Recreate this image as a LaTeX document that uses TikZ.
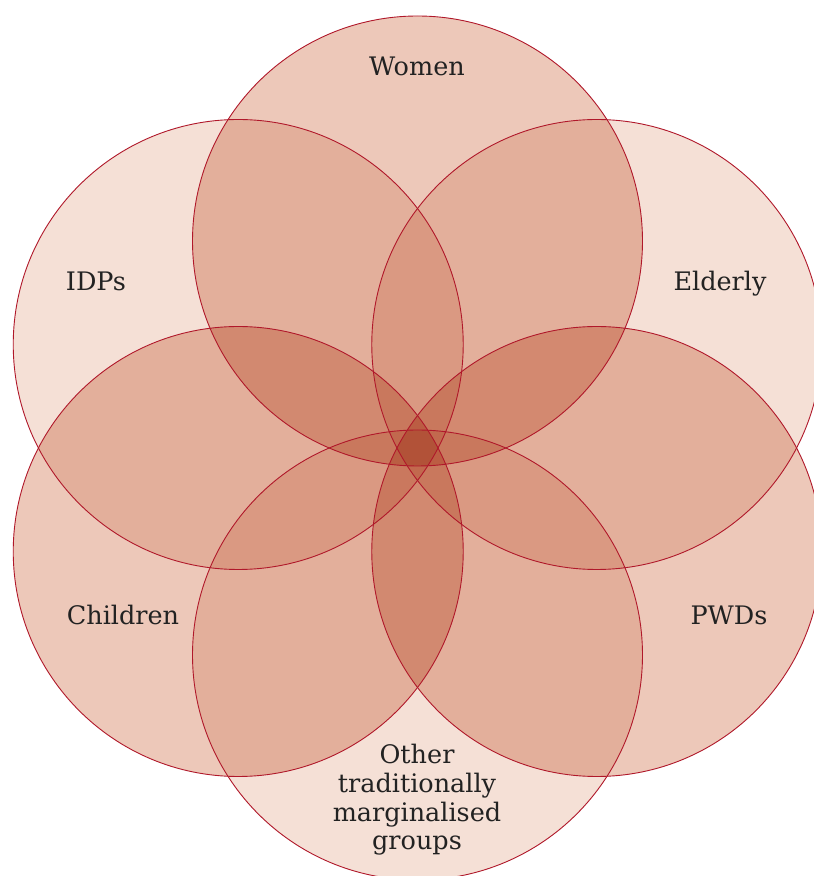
\documentclass[tikz,border=0pt]{standalone}
\usepackage{fontspec}
\setmainfont{DejaVu Serif}
\usetikzlibrary{calc}
\begin{document}
\begin{tikzpicture}[x=1pt,y=1pt,
  disc/.style={blend mode=multiply},
  ring/.style={draw=rimred, line width=0.9pt},
  lbl/.style={font=\fontsize{25.5}{29}\selectfont, text=labelgray, inner sep=0pt, anchor=base}]
  \definecolor{deepfill}{HTML}{EDC8B9}
  \definecolor{paleFill}{HTML}{F5E0D6}
  \definecolor{rimred}{HTML}{B0182A}
  \definecolor{labelgray}{HTML}{222222}
  % canvas
  \fill[white] (0,0) rectangle (814,876);
  \useasboundingbox (0,0) rectangle (814,876);
  % six circles on a hexagon around the middle
  \coordinate (mid) at (417.5,428);
  \coordinate (cW) at ($(mid)+(90:207)$);
  \coordinate (cI) at ($(mid)+(150:207)$);
  \coordinate (cC) at ($(mid)+(210:207)$);
  \coordinate (cO) at ($(mid)+(270:207)$);
  \coordinate (cP) at ($(mid)+(330:207)$);
  \coordinate (cE) at ($(mid)+(30:207)$);
  \begin{scope}
    \fill[deepfill, disc] (cW) circle (225);
    \fill[paleFill, disc] (cI) circle (225);
    \fill[deepfill, disc] (cC) circle (225);
    \fill[paleFill, disc] (cO) circle (225);
    \fill[deepfill, disc] (cP) circle (225);
    \fill[paleFill, disc] (cE) circle (225);
  \end{scope}
  \foreach \c in {cW,cI,cC,cO,cP,cE} \draw[ring] (\c) circle (225);
  % labels
  \node[lbl] (women) at (417,800) {Women};
  \node[lbl] (idps) at (96,585) {IDPs};
  \node[lbl] (elderly) at (720,585) {Elderly};
  \node[lbl] (children) at (123,251) {Children};
  \node[lbl] (pwds) at (729,251) {PWDs};
  \node[lbl, align=center, anchor=base] (other) at (417,26) {Other\\traditionally\\marginalised\\groups};
\end{tikzpicture}
\end{document}
